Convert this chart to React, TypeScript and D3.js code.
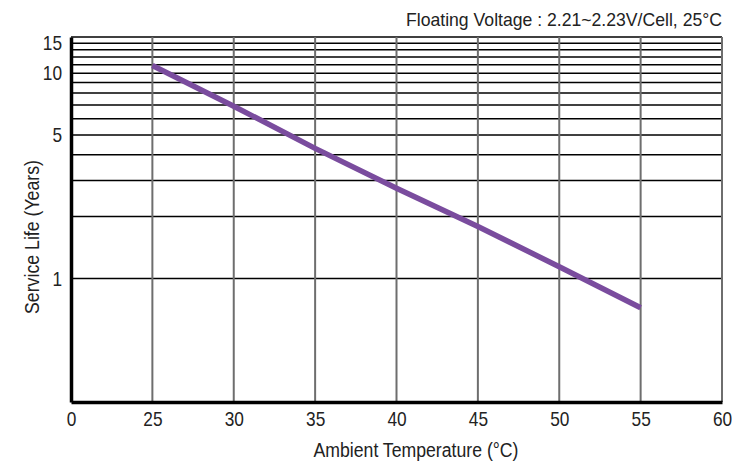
import React, { useEffect, useRef } from "react";
import * as d3 from "d3";

// temperature (°C) vs service life (years)
const temps = [25, 30, 35, 40, 45, 50, 55];
const lifeYears = [10.9, 6.9, 4.3, 2.75, 1.79, 1.14, 0.72];

// x axis is broken: first tick sits where 20 would be but reads "0"
const xTickValues = [20, 25, 30, 35, 40, 45, 50, 55, 60];
const xTickLabels = ["0", "25", "30", "35", "40", "45", "50", "55", "60"];
const yGridValues = [1, 2, 3, 4, 5, 6, 7, 8, 9, 10, 11, 12, 13, 14, 15];
const yTickValues = [1, 5, 10, 15];

const title = "Floating Voltage : 2.21~2.23V/Cell, 25°C";

const App: React.FC = () => {
  const svgRef = useRef<SVGSVGElement | null>(null);

  useEffect(() => {
    if (!svgRef.current) return;
    const svg = d3.select(svgRef.current);
    svg.selectAll("*").remove();

    const width = 732;
    const height = 465;
    const margin = { top: 37, right: 10, bottom: 63, left: 71 };
    const innerW = width - margin.left - margin.right;
    const innerH = height - margin.top - margin.bottom;
    // no narrow font installed, so squeeze Liberation Sans with textLength
    const font = "'Liberation Sans', Arial, sans-serif";
    const digitW = 9.6;

    svg.attr("width", width).attr("height", height);
    svg.append("rect").attr("width", width).attr("height", height).attr("fill", "#fff");

    const g = svg.append("g").attr("transform", `translate(${margin.left},${margin.top})`);

    const x = d3.scaleLinear().domain([20, 60]).range([0, innerW]);
    const y = d3.scaleLog().domain([0.25, 15]).range([innerH, 0]);

    // horizontal grid
    g.append("g")
      .selectAll("line")
      .data(yGridValues)
      .join("line")
      .attr("x1", 0)
      .attr("x2", innerW)
      .attr("y1", d => y(d))
      .attr("y2", d => y(d))
      .attr("stroke", "#000")
      .attr("stroke-width", 1.5);

    // vertical grid
    g.append("g")
      .selectAll("line")
      .data(xTickValues.slice(1))
      .join("line")
      .attr("x1", d => x(d))
      .attr("x2", d => x(d))
      .attr("y1", 0)
      .attr("y2", innerH)
      .attr("stroke", "#6e6e6e")
      .attr("stroke-width", 2);

    // line
    const line = d3.line<number>()
      .x((_, i) => x(temps[i]))
      .y(d => y(d));
    g.append("path")
      .datum(lifeYears)
      .attr("d", line)
      .attr("fill", "none")
      .attr("stroke", "#7a4c9e")
      .attr("stroke-width", 5.5);

    // axes
    const xAxis = g.append("g")
      .attr("transform", `translate(0,${innerH})`)
      .call(
        d3.axisBottom(x)
          .tickValues(xTickValues)
          .tickSize(0)
          .tickPadding(9)
          .tickFormat((_, i) => xTickLabels[i])
      );
    xAxis.select(".domain").attr("stroke", "#000").attr("stroke-width", 3.5);
    xAxis.selectAll<SVGTextElement, number>("text")
      .attr("font-family", font)
      .attr("font-size", 21)
      .attr("fill", "#222")
      .attr("lengthAdjust", "spacingAndGlyphs")
      .attr("textLength", (_, i) => xTickLabels[i].length * digitW);

    const yAxis = g.append("g")
      .call(
        d3.axisLeft(y)
          .tickValues(yTickValues)
          .tickSize(0)
          .tickPadding(9)
          .tickFormat(d => String(d))
      );
    yAxis.select(".domain").attr("stroke", "#000").attr("stroke-width", 3.5);
    yAxis.selectAll<SVGTextElement, number>("text")
      .attr("font-family", font)
      .attr("font-size", 21)
      .attr("fill", "#222")
      .attr("lengthAdjust", "spacingAndGlyphs")
      .attr("textLength", d => String(d).length * digitW)
      .attr("dy", d => (d === 15 ? "0.6em" : "0.32em"));

    // labels
    svg.append("text")
      .attr("x", 416)
      .attr("y", 457)
      .attr("text-anchor", "middle")
      .attr("font-family", font)
      .attr("font-size", 20)
      .attr("fill", "#222")
      .attr("lengthAdjust", "spacingAndGlyphs")
      .attr("textLength", 205)
      .text("Ambient Temperature (°C)");

    svg.append("text")
      .attr("transform", `translate(39,237) rotate(-90)`)
      .attr("text-anchor", "middle")
      .attr("font-family", font)
      .attr("font-size", 20)
      .attr("fill", "#222")
      .attr("lengthAdjust", "spacingAndGlyphs")
      .attr("textLength", 154)
      .text("Service Life (Years)");

    svg.append("text")
      .attr("x", 722)
      .attr("y", 26)
      .attr("text-anchor", "end")
      .attr("font-family", font)
      .attr("font-size", 18.5)
      .attr("fill", "#222")
      .attr("lengthAdjust", "spacingAndGlyphs")
      .attr("textLength", 316)
      .text(title);
  }, []);

  return <svg ref={svgRef} style={{ position: "absolute", left: 0, top: 0 }}></svg>;
};

export default App;
